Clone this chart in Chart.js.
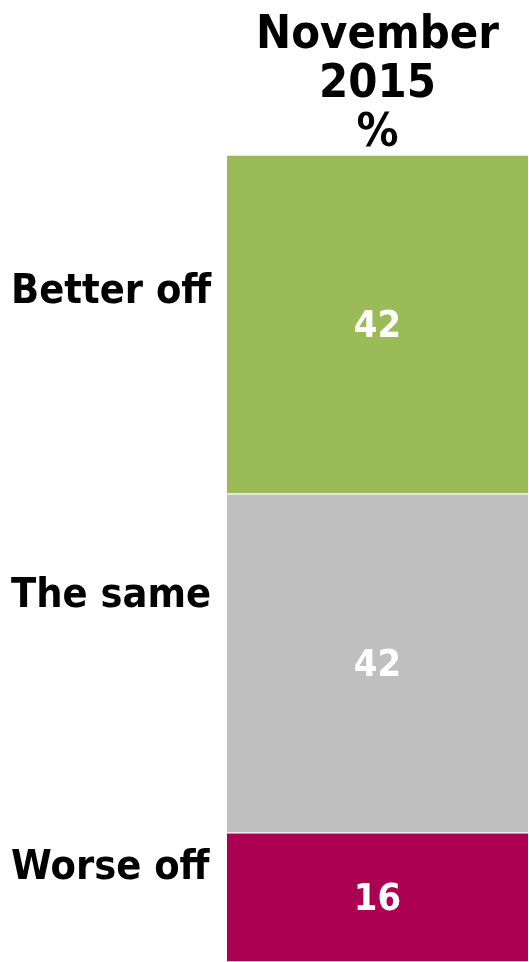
<!DOCTYPE html>
<html>
<head>
<meta charset="utf-8">
<script src="https://cdn.jsdelivr.net/npm/chart.js@4/dist/chart.umd.min.js"></script>
<style>
  html, body { margin: 0; padding: 0; background: #ffffff; }
  #wrap { width: 529px; height: 962px; position: relative; }
</style>
</head>
<body>
<div id="wrap"><canvas id="c"></canvas></div>
<script>
const categories = ['November 2015'];
const titleLines = ['November', '2015', '%'];
const seriesNames = ['Better off', 'The same', 'Worse off'];
const betterOff = [42];
const theSame = [42];
const worseOff = [16];
const seriesColors = ['#9BBB59', '#BFBFBF', '#AC0053'];
// vertical nudge of each left-hand label relative to its segment centre
const labelNudge = [-32, -67, -29];

const FONT = "'DejaVu Sans', Verdana, sans-serif";

function stretchedText(ctx, text, x, y, sy) {
  ctx.save();
  ctx.translate(x, y);
  ctx.scale(1, sy);
  ctx.fillText(text, 0, 0);
  ctx.restore();
}

const textPlugin = {
  id: 'textPlugin',
  afterDatasetsDraw(chart) {
    const ctx = chart.ctx;
    const area = chart.chartArea;
    ctx.save();
    // column header centred over the bar
    ctx.fillStyle = '#000000';
    ctx.font = "bold 42px " + FONT;
    ctx.textAlign = 'center';
    ctx.textBaseline = 'alphabetic';
    const cx = (area.left + area.right) / 2;
    titleLines.forEach((t, k) => {
      stretchedText(ctx, t, cx, 48 + k * 49, 1.08);
    });
    chart.data.datasets.forEach((ds, i) => {
      const meta = chart.getDatasetMeta(i);
      meta.data.forEach((el, j) => {
        const cy = (el.y + el.base) / 2;
        ctx.textBaseline = 'middle';
        // value label
        ctx.fillStyle = '#ffffff';
        ctx.font = "bold 34px " + FONT;
        ctx.textAlign = 'center';
        stretchedText(ctx, String(ds.data[j]), el.x, cy + 3, 1.1);
        // category label on the left
        ctx.fillStyle = '#000000';
        ctx.font = "bold 37px " + FONT;
        ctx.textAlign = 'left';
        stretchedText(ctx, ds.label, 11, cy + labelNudge[i], 1.08);
      });
    });
    ctx.restore();
  }
};

const datasets = [betterOff, theSame, worseOff].map((d, i) => ({
  label: seriesNames[i],
  data: d,
  backgroundColor: seriesColors[i],
  borderColor: '#ffffff',
  borderWidth: { top: 1, bottom: 1, left: 0, right: 0 },
  borderSkipped: false,
  barPercentage: 1,
  categoryPercentage: 1
}));

new Chart(document.getElementById('c'), {
  type: 'bar',
  data: { labels: categories, datasets },
  options: {
    responsive: true,
    maintainAspectRatio: false,
    animation: false,
    layout: { padding: { left: 227, right: 1, top: 155, bottom: 0 } },
    plugins: { legend: { display: false }, tooltip: { enabled: false }, title: { display: false } },
    scales: {
      x: {
        stacked: true,
        display: false
      },
      y: {
        stacked: true,
        reverse: true,
        min: 0,
        max: 100,
        display: false
      }
    }
  },
  plugins: [textPlugin]
});
</script>
</body>
</html>
